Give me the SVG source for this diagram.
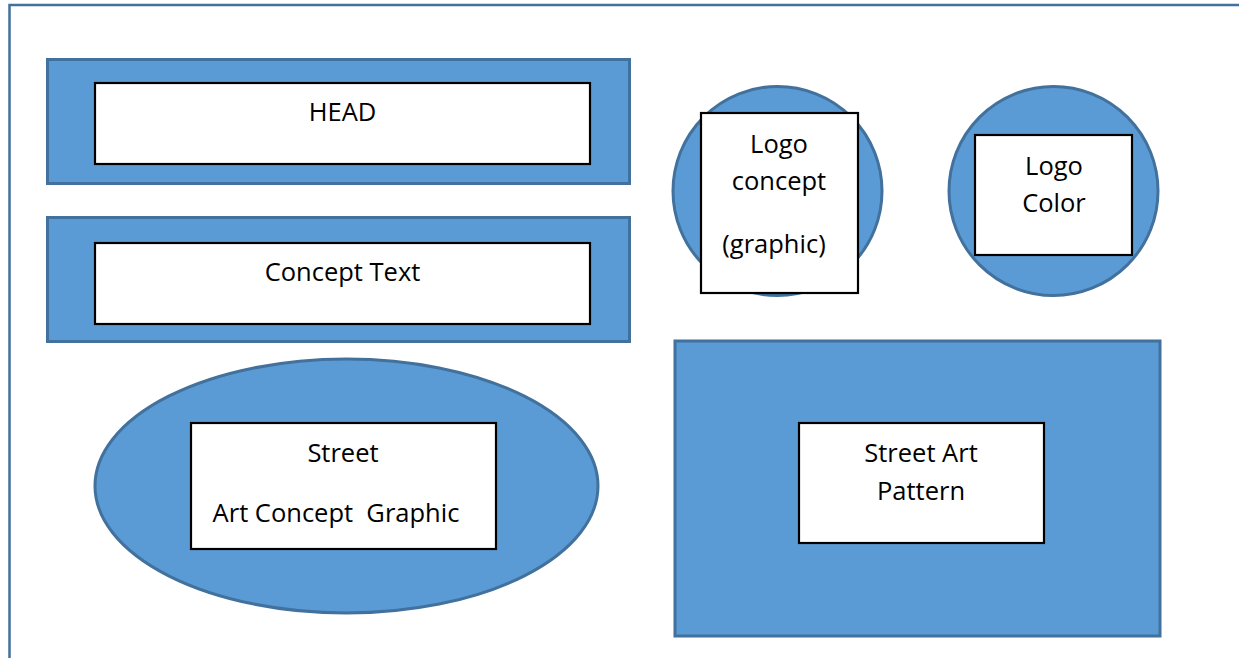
<svg xmlns="http://www.w3.org/2000/svg" width="1239" height="658" viewBox="0 0 1239 658">
<style>
.s{fill:#5b9bd5;stroke:#41719c;stroke-width:3}
.b{fill:#fff;stroke:#000;stroke-width:2.2}
text{font-family:"Open Sans","Noto Sans",sans-serif;font-size:25.5px;fill:#000;text-anchor:middle}
</style>
<rect width="1239" height="658" fill="#fff"/>
<path d="M9.500 658V5H1239" fill="none" stroke="#41719c" stroke-width="2.500"/>
<g id="head"><rect class="s" x="47.500" y="59.500" width="582" height="124"/><rect class="b" x="95" y="83" width="495" height="81"/><text x="342.500" y="121">HEAD</text></g>
<g id="concept-text"><rect class="s" x="47.500" y="217.500" width="582" height="124"/><rect class="b" x="95" y="243" width="495" height="81"/><text x="342.500" y="281">Concept Text</text></g>
<g id="logo-concept"><circle class="s" cx="777.500" cy="191" r="104.500"/><rect class="b" x="701" y="113" width="157" height="180"/><text x="779" y="152.500">Logo</text><text x="779" y="190">concept</text><text x="774" y="253">(graphic)</text></g>
<g id="logo-color"><circle class="s" cx="1053.500" cy="191" r="104.500"/><rect class="b" x="975" y="135" width="157" height="120"/><text x="1054" y="174.500">Logo</text><text x="1054" y="211.500">Color</text></g>
<g id="street-art-concept"><ellipse class="s" cx="346.500" cy="486" rx="251.500" ry="127"/><rect class="b" x="191" y="423" width="305" height="126"/><text x="343" y="462">Street</text><text x="336" y="522" xml:space="preserve">Art Concept  Graphic</text></g>
<g id="street-art-pattern"><rect class="s" x="675" y="341" width="485" height="295"/><rect class="b" x="799" y="423" width="245" height="120"/><text x="921" y="462">Street Art</text><text x="921" y="500">Pattern</text></g>
<g id="connectors"/>
</svg>
